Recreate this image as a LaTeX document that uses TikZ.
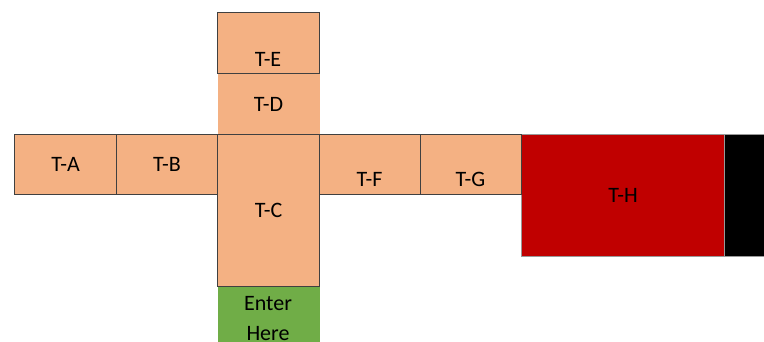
\documentclass[tikz,border=0pt]{standalone}
\usepackage{fontspec}
\setmainfont{Carlito}
\usepackage{xcolor}
\usepackage{tikz}

\definecolor{tileorange}{HTML}{F4B183}
\definecolor{tilered}{HTML}{C00000}
\definecolor{tilegreen}{HTML}{70AD47}
\definecolor{tileline}{HTML}{404040}

\begin{document}
\begin{tikzpicture}[x=1pt,y=-1pt,
	tile/.style={rectangle,anchor=north west,inner sep=0pt,fill=tileorange,draw=tileline,line width=1.2pt,font=\fontsize{22}{30}\selectfont},
	txt/.style={inner sep=0pt,anchor=base,font=\fontsize{22}{30}\selectfont}]
	\useasboundingbox (0,0) rectangle (764,342);
	\clip (0,0) rectangle (764,342);
	
	% entrance and the far end
	\node[tile,fill=tilegreen,draw=none,minimum width=102pt,minimum height=70pt] (enter) at (217,286) {};
	\node[txt] (entertext) at (268,310.5) {Enter};
	\node[txt] (heretext) at (268,340.5) {Here};
	\node[tile,fill=tilered,draw=gray!80,line width=1pt,minimum width=203pt,minimum height=122pt] (th) at (521,134) {T-H};
	\node[tile,fill=black,draw=gray!80,line width=1pt,minimum width=60pt,minimum height=122pt] (thend) at (724,134) {};
	
	% column
	\node[tile,draw=none,minimum width=102pt,minimum height=61pt] (td) at (217,73) {T-D};
	\node[tile,minimum width=102pt,minimum height=61pt] (te) at (217,12) {};
	\node[txt] (tetext) at (268,66.3) {T-E};
	
	% row
	\node[tile,minimum width=102pt,minimum height=60pt] (ta) at (14,134) {T-A};
	\node[tile,minimum width=101pt,minimum height=60pt] (tb) at (116,134) {T-B};
	\node[tile,minimum width=102pt,minimum height=152pt] (tc) at (217,134) {T-C};
	\node[tile,minimum width=101pt,minimum height=60pt] (tf) at (319,134) {};
	\node[txt] (tftext) at (369.5,186.5) {T-F};
	\node[tile,minimum width=101pt,minimum height=60pt] (tg) at (420,134) {};
	\node[txt] (tgtext) at (470.5,186.5) {T-G};
\end{tikzpicture}
\end{document}
